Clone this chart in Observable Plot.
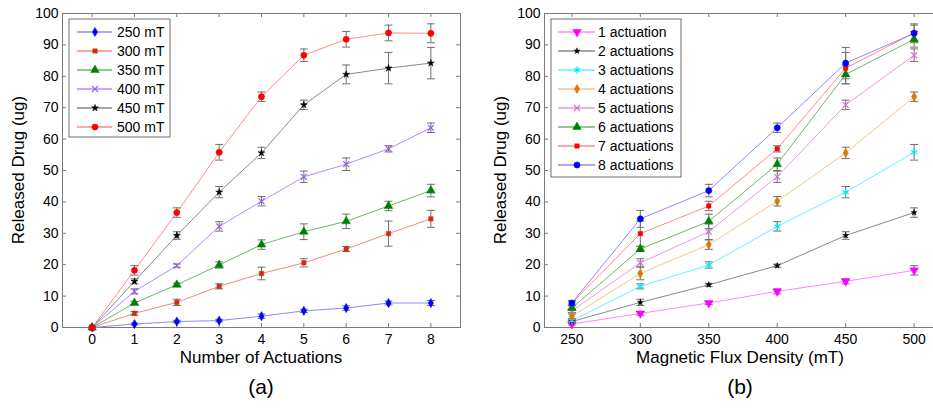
<!DOCTYPE html>
<html><head><meta charset="utf-8">
<script src="https://cdn.jsdelivr.net/npm/d3@7"></script>
<script src="https://cdn.jsdelivr.net/npm/@observablehq/plot@0.6"></script>
<style>
body{margin:0;background:#fff;overflow:hidden;width:933px;height:410px;font-family:"Liberation Sans",Arial,sans-serif}
#wrap{position:relative;width:933px;height:410px;overflow:hidden}
#a{position:absolute;left:0;top:0;width:490px;height:410px}
#b{position:absolute;left:490px;top:0;width:460px;height:410px}
svg{overflow:visible;max-width:none !important}
</style></head><body><div id="wrap"><div id="a"></div><div id="b"></div></div>
<script>
// ---- data (released drug in ug, mean and error half-length) ----
const actuations = [0,1,2,3,4,5,6,7,8];
const fieldsMT = [250,300,350,400,450,500];
const drug250 = [0,1.1,1.9,2.2,3.6,5.3,6.2,7.8,7.8];
const drug300 = [0,4.5,8.0,13.1,17.2,20.6,25.0,29.9,34.6];
const drug350 = [0,7.8,13.6,19.9,26.4,30.5,33.8,38.7,43.6];
const drug400 = [0,11.5,19.7,32.2,40.2,48.0,52.0,56.9,63.6];
const drug450 = [0,14.7,29.3,43.1,55.6,70.9,80.6,82.6,84.2];
const drug500 = [0,18.2,36.6,55.8,73.5,86.7,91.8,93.8,93.7];
const err250 = [0,0.3,0.4,0.4,0.7,0.5,0.7,0.6,0.8];
const err300 = [0,0.6,1.0,0.8,2.0,1.3,0.8,4.0,2.7];
const err350 = [0,0.5,0.5,1.0,1.5,2.5,2.3,1.5,2.0];
const err400 = [0,0.8,0.5,1.5,1.5,1.8,2.0,1.0,1.5];
const err450 = [0,0.8,1.2,1.8,1.8,1.5,3.0,5.0,5.0];
const err500 = [0,1.5,1.5,2.5,1.5,2.0,2.5,2.5,3.0];
const leftLabels = ["250 mT","300 mT","350 mT","400 mT","450 mT","500 mT"];
const rightLabels = ["1 actuation","2 actuations","3 actuations","4 actuations","5 actuations","6 actuations","7 actuations","8 actuations"];
const yTicks = [0,10,20,30,40,50,60,70,80,90,100];
const xTicksA = [0,1,2,3,4,5,6,7,8];
const xTicksB = [250,300,350,400,450,500];

const drugByField = [drug250,drug300,drug350,drug400,drug450,drug500];
const errByField = [err250,err300,err350,err400,err450,err500];

const leftRows = fieldsMT.flatMap((f,i) => actuations.map((a,j) => ({key:f, x:a, v:drugByField[i][j], e:errByField[i][j]})));
const rightRows = actuations.slice(1).flatMap(n => fieldsMT.map((f,i) => ({key:n, x:f, v:drugByField[i][n], e:errByField[i][n]})));

const leftStyles = [
  {key:250, marker:"#0000ff", line:"#8a8aff", symbol:"diamond", r:2.8, filled:true},
  {key:300, marker:"#d42a10", line:"#f28a7a", symbol:"square", r:2.5, filled:true},
  {key:350, marker:"#008000", line:"#6cb86c", symbol:"triangle", r:3.2, filled:true},
  {key:400, marker:"#9a5cf2", line:"#b48cff", symbol:"times", r:2.8, filled:false},
  {key:450, marker:"#000000", line:"#8a8a8a", symbol:"star", r:2.2, filled:true},
  {key:500, marker:"#ff0000", line:"#ff8a8a", symbol:"circle", r:3.1, filled:true}
];
const rightStyles = [
  {key:1, marker:"#ff00ff", line:"#ff86ff", symbol:"triangle", r:3.2, filled:true, rotate:180},
  {key:2, marker:"#000000", line:"#8a8a8a", symbol:"star", r:1.9, filled:true},
  {key:3, marker:"#00e8ff", line:"#5ff5ff", symbol:"asterisk", r:3.2, filled:false},
  {key:4, marker:"#d97a00", line:"#f5c48a", symbol:"diamond", r:2.8, filled:true},
  {key:5, marker:"#d870d8", line:"#e49ae4", symbol:"times", r:2.8, filled:false},
  {key:6, marker:"#008000", line:"#6cb86c", symbol:"triangle", r:3.2, filled:true},
  {key:7, marker:"#ff0000", line:"#ff8a8a", symbol:"square", r:2.5, filled:true},
  {key:8, marker:"#0000ff", line:"#8a8aff", symbol:"circle", r:3.1, filled:true}
];

const capSymbol = {draw(ctx){ ctx.moveTo(-4,0); ctx.lineTo(4,0); }};
const symMap = {circle:d3.symbolCircle, square:d3.symbolSquare, triangle:d3.symbolTriangle, diamond:d3.symbolDiamond, times:d3.symbolTimes, star:d3.symbolStar, asterisk:d3.symbolAsterisk};

function seriesMarks(rows, styles) {
  const marks = [];
  for (const s of styles) {
    const d = rows.filter(r => r.key === s.key);
    marks.push(Plot.line(d, {x:"x", y:"v", stroke:s.line, strokeWidth:1}));
  }
  for (const s of styles) {
    const d = rows.filter(r => r.key === s.key && r.e > 0);
    marks.push(Plot.ruleX(d, {x:"x", y1:r => r.v - r.e, y2:r => r.v + r.e, stroke:"#707070", strokeWidth:1}));
    marks.push(Plot.dot(d, {x:"x", y:r => r.v + r.e, symbol:capSymbol, stroke:"#707070", fill:"none", strokeWidth:1}));
    marks.push(Plot.dot(d, {x:"x", y:r => r.v - r.e, symbol:capSymbol, stroke:"#707070", fill:"none", strokeWidth:1}));
  }
  for (const s of styles) {
    const d = rows.filter(r => r.key === s.key);
    marks.push(Plot.dot(d, {x:"x", y:"v", symbol:s.symbol, r:s.r, rotate:s.rotate || 0,
      fill: s.filled ? s.marker : "none", stroke: s.marker, strokeWidth: s.filled ? 0.5 : 1.2}));
  }
  return marks;
}

function makePlot({width, marginLeft, marginRight, xDomain, xTicks, rows, styles}) {
  const height = 410, marginTop = 13, marginBottom = 83;
  const innerH = height - marginTop - marginBottom;
  const innerW = width - marginLeft - marginRight;
  const tk = "#7a7a7a";
  return Plot.plot({
    width, height, marginLeft, marginRight, marginTop, marginBottom,
    style: {fontFamily: '"Liberation Sans", Arial, sans-serif', background: "#fff", overflow: "visible", maxWidth: "none"},
    x: {domain: xDomain, label: null},
    y: {domain: [0, 100], label: null},
    marks: [
      Plot.frame({stroke: tk}),
      Plot.tickX(xTicks, {x: d => d, insetTop: innerH - 4, stroke: tk}),
      Plot.tickX(xTicks, {x: d => d, insetBottom: innerH - 4, stroke: tk}),
      Plot.tickY(yTicks, {y: d => d, insetRight: innerW - 4, stroke: tk}),
      Plot.tickY(yTicks, {y: d => d, insetLeft: innerW - 4, stroke: tk}),
      Plot.axisX({ticks: xTicks, tickSize: 0, tickPadding: 7, fontSize: 14, label: null, tickFormat: d => String(d)}),
      Plot.axisY({ticks: yTicks, tickSize: 0, tickPadding: 4, fontSize: 14, label: null, tickFormat: d => String(d)}),
      ...seriesMarks(rows, styles)
    ]
  });
}

function addText(svg, {yLabelX, xLabel, xLabelX, caption}) {
  const s = d3.select(svg);
  const g = s.append("g").attr("font-family", '"Liberation Sans", Arial, sans-serif').attr("fill", "#000").attr("text-anchor", "middle");
  g.append("text").attr("transform", `translate(${yLabelX},170) rotate(-90)`)
    .attr("dominant-baseline", "central").attr("font-size", 17).text("Released Drug (ug)");
  g.append("text").attr("x", xLabelX).attr("y", 357)
    .attr("dominant-baseline", "central").attr("font-size", 17).text(xLabel);
  g.append("text").attr("x", xLabelX).attr("y", 386)
    .attr("dominant-baseline", "central").attr("font-size", 21).text(caption);
}

function addLegend(svg, {x, y, w, h, lineX1, lineX2, markX, textX, row0, step, styles, labels}) {
  const g = d3.select(svg).append("g").attr("font-family", '"Liberation Sans", Arial, sans-serif').attr("text-anchor", "start");
  g.append("rect").attr("x", x).attr("y", y).attr("width", w).attr("height", h).attr("fill", "#fff").attr("stroke", "#6e6e6e");
  styles.forEach((s, i) => {
    const yy = row0 + i * step;
    g.append("line").attr("x1", lineX1).attr("x2", lineX2).attr("y1", yy).attr("y2", yy).attr("stroke", s.line).attr("stroke-width", 1.5);
    g.append("path").attr("d", d3.symbol(symMap[s.symbol], s.r * s.r * Math.PI)())
      .attr("transform", `translate(${markX},${yy}) rotate(${s.rotate || 0})`)
      .attr("fill", s.filled ? s.marker : "none").attr("stroke", s.marker).attr("stroke-width", s.filled ? 0.5 : 1.2);
    g.append("text").attr("x", textX).attr("y", yy).attr("text-anchor", "start").attr("dominant-baseline", "central")
      .attr("font-size", 14).attr("fill", "#000").text(labels[i]);
  });
}

const plotA = makePlot({width: 490, marginLeft: 62, marginRight: 30, xDomain: [-0.7, 8.7], xTicks: xTicksA, rows: leftRows, styles: leftStyles});
addLegend(plotA, {x: 69, y: 19, w: 101, h: 118, lineX1: 77, lineX2: 112, markX: 95, textX: 117, row0: 32, step: 19, styles: leftStyles, labels: leftLabels});
addText(plotA, {yLabelX: 18, xLabel: "Number of Actuations", xLabelX: 261, caption: "(a)"});
document.getElementById("a").append(plotA);

const plotB = makePlot({width: 460, marginLeft: 54, marginRight: 9, xDomain: [230, 520], xTicks: xTicksB, rows: rightRows, styles: rightStyles});
addLegend(plotB, {x: 61, y: 19, w: 130, h: 158, lineX1: 68, lineX2: 105, markX: 87, textX: 108, row0: 32, step: 19, styles: rightStyles, labels: rightLabels});
addText(plotB, {yLabelX: 10, xLabel: "Magnetic Flux Density (mT)", xLabelX: 250, caption: "(b)"});
document.getElementById("b").append(plotB);
</script></body></html>
